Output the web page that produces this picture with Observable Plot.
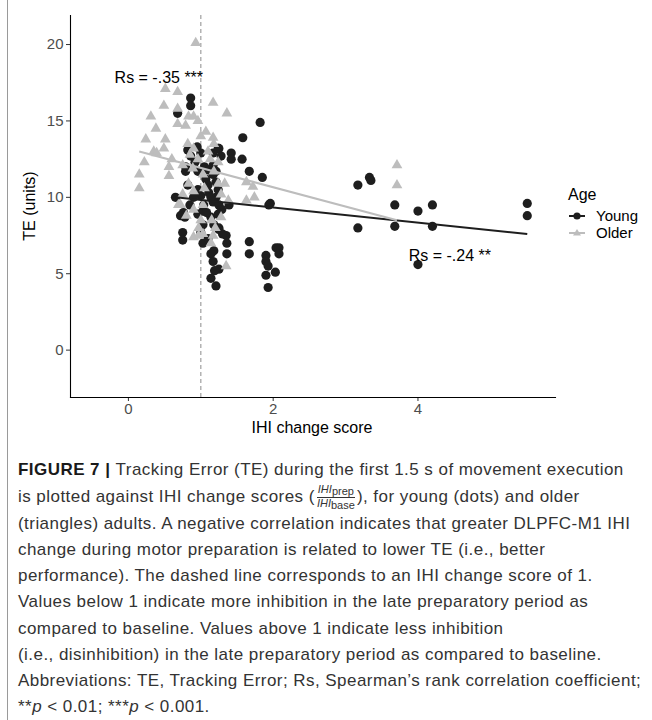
<!DOCTYPE html>
<html><head><meta charset="utf-8">
<script src="https://cdn.jsdelivr.net/npm/d3@7"></script>
<script src="https://cdn.jsdelivr.net/npm/@observablehq/plot@0.6"></script>
<style>
body{margin:0;background:#fff;font-family:"Liberation Sans",Arial,sans-serif;}
#wrap{position:relative;width:652px;height:720px;overflow:hidden;}
#frame{position:absolute;left:7px;top:0;width:660px;height:730px;border-left:1px solid #9a9a9a;}
#chart{position:absolute;left:0;top:0;}
#chart svg text{font-size:15px;}
#chart svg g.anno text{font-size:16px;}
.atitle{position:absolute;font-size:16px;color:#000;white-space:nowrap;}
#ytitle{left:30px;top:206px;transform:translate(-50%,-50%) rotate(-90deg);}
#xtitle{left:312px;top:428px;transform:translate(-50%,-50%);}
#legend{position:absolute;left:568px;top:186px;color:#000;}
#legend .lt{font-size:16px;margin-bottom:3px;}
#legend .li{display:flex;align-items:center;height:17px;font-size:15px;}
#legend svg{margin-right:10px;}
#caption{position:absolute;left:18px;top:457px;width:640px;font-size:17px;letter-spacing:0.45px;line-height:26.2px;color:#333;white-space:nowrap;}
#caption b{font-weight:bold;color:#1a1a1a;}
.frac{display:inline-block;vertical-align:middle;text-align:center;font-size:11px;line-height:11px;font-style:italic;margin:0 2px;letter-spacing:0;}
.frac .num{border-bottom:1px solid #333;padding:0 1px;}
.frac sub{font-style:normal;font-size:11px;vertical-align:-2px;}
</style></head>
<body>
<div id="wrap">
<div id="frame"></div>
<div id="chart"></div>
<div class="atitle" id="ytitle">TE (units)</div>
<div class="atitle" id="xtitle">IHI change score</div>
<div id="legend"></div>
<div id="caption">
<div><b>FIGURE 7 | </b>Tracking Error (TE) during the first 1.5 s of movement execution</div>
<div style="height:27.5px;line-height:27.5px">is plotted against IHI change scores (<span class="frac"><div class="num">IHI<sub>prep</sub></div><div>IHI<sub>base</sub></div></span>), for young (dots) and older</div>
<div>(triangles) adults. A negative correlation indicates that greater DLPFC-M1 IHI</div>
<div>change during motor preparation is related to lower TE (i.e., better</div>
<div>performance). The dashed line corresponds to an IHI change score of 1.</div>
<div>Values below 1 indicate more inhibition in the late preparatory period as</div>
<div>compared to baseline. Values above 1 indicate less inhibition</div>
<div>(i.e., disinhibition) in the late preparatory period as compared to baseline.</div>
<div>Abbreviations: TE, Tracking Error; Rs, Spearman’s rank correlation coefficient;</div>
<div>**<i>p</i> &lt; 0.01; ***<i>p</i> &lt; 0.001.</div>
</div>
</div>
<script>
// ---- data ----
const ageGroups = ["Young", "Older"];
const ageColors = ["#1e1e1e", "#bdbdbd"];

const youngX = [0.86,0.86,0.68,1.82,1.58,1.42,1.42,1.57,1.24,1.0,0.82,0.86,1.17,1.25,1.28,0.79,0.96,1.10,1.17,1.07,1.21,0.82,1.1,1.0,1.11,1.21,0.9,1.04,1.17,1.25,0.76,0.96,1.14,1.29,0.65,0.79,0.96,1.24,1.21,1.67,1.85,1.94,1.96,1.39,0.75,0.72,0.78,1.03,1.08,1.24,1.18,1.25,1.03,0.75,0.75,1.0,1.03,1.25,1.35,1.36,1.18,1.14,1.36,1.17,1.25,1.19,1.14,1.21,1.67,1.67,1.9,1.9,1.93,2.04,2.08,2.08,2.03,1.9,1.93,3.17,3.33,3.35,3.17,3.68,3.68,4.0,4.2,4.2,5.51,5.51,4.0,1.17,0.92,1.05,0.95,1.14,0.85,1.3,1.1];
const youngY = [16.5,16.0,15.5,14.9,13.9,12.9,12.5,12.5,13.2,12.9,13.1,12.7,12.9,13.2,12.7,12.0,11.7,11.8,11.5,11.2,11.0,10.8,10.8,10.1,10.3,10.0,10.0,9.5,9.7,9.5,9.0,8.9,8.7,9.2,10.0,11.7,10.5,10.5,11.7,11.7,11.3,9.5,9.6,9.5,8.9,8.8,8.7,9.1,9.0,8.9,8.2,8.0,8.2,7.7,7.2,7.7,7.0,7.9,7.5,7.0,6.5,6.3,6.3,5.8,5.3,5.2,4.7,4.2,7.1,6.3,6.2,5.8,5.5,6.7,6.7,6.3,5.1,4.9,4.1,10.8,11.3,11.1,8.0,9.5,8.1,9.1,9.5,8.1,9.6,8.8,5.6,12.1,12.3,12.0,13.3,10.0,9.5,7.6,7.3];

const olderX = [0.93,0.51,0.68,1.17,0.49,0.68,1.36,0.31,0.83,0.9,0.68,0.96,0.38,0.79,1.07,0.24,0.51,1.17,0.82,1.18,0.35,0.49,0.39,0.22,0.56,0.15,0.56,0.15,0.72,0.75,0.9,1.1,0.89,0.96,1.13,1.24,1.03,1.18,0.83,0.75,0.9,1.24,1.33,1.28,0.69,1.03,0.8,0.9,1.15,1.28,0.97,1.2,1.63,1.72,1.63,1.74,1.38,0.9,0.97,1.03,1.17,1.14,1.35,3.71,3.71,1.0,1.05,0.85,0.6,1.0];
const olderY = [20.1,17.1,16.9,16.2,16.0,15.8,15.5,15.3,15.3,15.3,14.8,15.0,14.5,14.7,14.3,13.8,13.8,13.9,13.5,13.5,13.0,13.2,12.9,12.3,12.0,11.5,11.4,10.6,9.5,12.1,13.2,13.0,11.9,12.5,12.5,12.3,11.5,11.7,10.9,10.2,10.4,10.9,10.9,10.2,9.5,9.5,8.8,9.2,8.5,8.7,8.0,8.0,11.0,10.7,9.8,10.0,9.8,7.4,7.5,7.6,7.5,7.0,5.5,12.1,10.8,14.0,10.6,12.8,12.5,8.5];

// fitted regression lines (endpoints)
const fitAge = ["Young", "Older"];
const fitX1 = [0.65, 0.15], fitY1 = [10.0, 13.0];
const fitX2 = [5.51, 3.71], fitY2 = [7.6, 8.5];

const annoText = ["Rs = -.35 ***", "Rs = -.24 **"];
const annoX = [0.42, 4.44], annoY = [17.8, 6.2];

const refX = [1];
const xTicks = [0, 2, 4];
const yTicks = [0, 5, 10, 15, 20];

// ---- tables ----
const young = youngX.map((x, i) => ({x, y: youngY[i], age: "Young"}));
const older = olderX.map((x, i) => ({x, y: olderY[i], age: "Older"}));
const fits = fitAge.map((age, i) => ({age, x1: fitX1[i], y1: fitY1[i], x2: fitX2[i], y2: fitY2[i]}));
const annos = annoText.map((text, i) => ({text, x: annoX[i], y: annoY[i]}));

const chart = Plot.plot({
  width: 652, height: 445,
  marginLeft: 70, marginRight: 97, marginTop: 15, marginBottom: 48,
  x: {domain: [-0.8, 5.9]},
  y: {domain: [-3.1, 21.9]},
  color: {domain: ageGroups, range: ageColors},
  symbol: {domain: ageGroups, range: ["circle", "triangle"]},
  style: {fontFamily: "Liberation Sans, Arial, sans-serif", fontSize: "15px", background: "transparent"},
  marks: [
    Plot.ruleX(refX, {stroke: "#a6a6a6", strokeWidth: 1.3, strokeDasharray: "4,3"}),
    Plot.dot(young, {x: "x", y: "y", fill: "age", symbol: "age", r: 4.6}),
    Plot.dot(older, {x: "x", y: "y", fill: "age", symbol: "age", r: 4.0}),
    Plot.link(fits, {x1: "x1", y1: "y1", x2: "x2", y2: "y2", stroke: "age", strokeWidth: 2}),
    Plot.text(annos, {x: "x", y: "y", text: "text", fontSize: 16, fill: "#000", className: "anno"}),
    Plot.axisX({ticks: xTicks, tickFormat: d => String(d), tickSize: 4, tickPadding: 2, stroke: "#333", fill: "#4d4d4d", label: null}),
    Plot.axisY({ticks: yTicks, tickFormat: d => String(d), tickSize: 4, tickPadding: 3, stroke: "#333", fill: "#4d4d4d", label: null}),
    Plot.frame({anchor: "left", stroke: "#000", strokeWidth: 1.1}),
    Plot.frame({anchor: "bottom", stroke: "#000", strokeWidth: 1.1})
  ]
});
document.getElementById("chart").appendChild(chart);
// tag annotation text groups so CSS can size them
chart.querySelectorAll('g[aria-label="text"]').forEach(g => g.classList.add("anno"));

// ---- legend ----
const leg = document.getElementById("legend");
leg.innerHTML = '<div class="lt">Age</div>';
ageGroups.forEach((g, i) => {
  const sym = i === 0
    ? `<circle cx="9" cy="8" r="3.6" fill="${ageColors[i]}"/>`
    : `<path d="M9,4 L13,10.5 L5,10.5 Z" fill="${ageColors[i]}"/>`;
  leg.insertAdjacentHTML("beforeend",
    `<div class="li"><svg width="18" height="16"><line x1="1" y1="8" x2="17" y2="8" stroke="${ageColors[i]}" stroke-width="2"/>${sym}</svg>${g}</div>`);
});
</script>
</body></html>
